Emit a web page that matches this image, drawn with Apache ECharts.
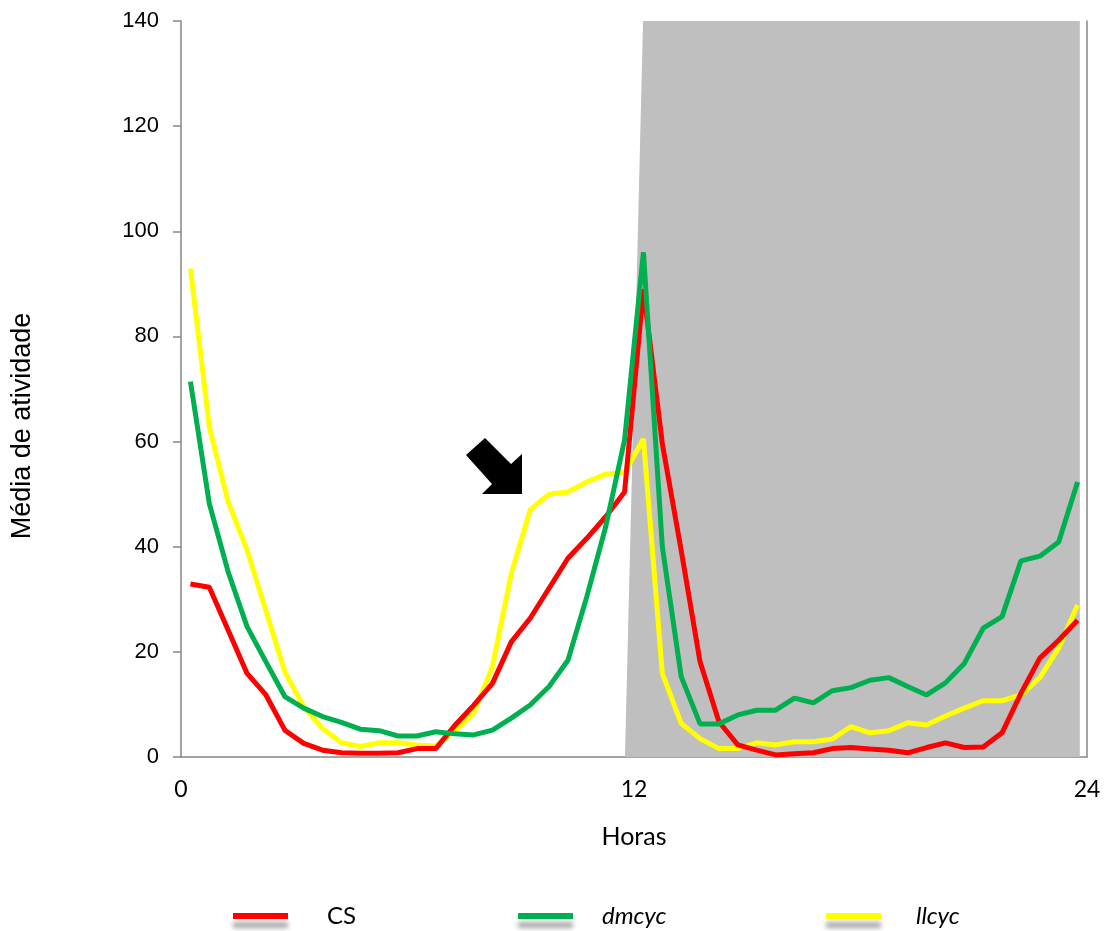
<!DOCTYPE html>
<html>
<head>
<meta charset="utf-8">
<script src="https://cdn.jsdelivr.net/npm/echarts@6/dist/echarts.min.js"></script>
<style>
html, body { margin: 0; padding: 0; background: #fff; }
#main { width: 1107px; height: 931px; }
</style>
</head>
<body>
<div id="main"></div>
<script>
// horas (meio das classes de 30 min)
var horas = [0.25, 0.75, 1.25, 1.75, 2.25, 2.75, 3.25, 3.75, 4.25, 4.75, 5.25, 5.75,
    6.25, 6.75, 7.25, 7.75, 8.25, 8.75, 9.25, 9.75, 10.25, 10.75, 11.25, 11.75,
    12.25, 12.75, 13.25, 13.75, 14.25, 14.75, 15.25, 15.75, 16.25, 16.75, 17.25, 17.75,
    18.25, 18.75, 19.25, 19.75, 20.25, 20.75, 21.25, 21.75, 22.25, 22.75, 23.25, 23.75];

var cs = [32.9, 32.3, 24.1, 15.9, 11.8, 5.1, 2.6, 1.3, 0.8, 0.7, 0.7, 0.8,
    1.6, 1.6, 6.0, 9.8, 14.0, 21.9, 26.4, 32.1, 37.8, 41.6, 45.7, 50.4,
    89.0, 59.6, 39.3, 18.1, 6.7, 2.3, 1.3, 0.4, 0.6, 0.8, 1.6, 1.8,
    1.5, 1.3, 0.8, 1.8, 2.7, 1.8, 1.9, 4.6, 12.1, 18.8, 22.2, 26.0];

var dmcyc = [71.4, 48.2, 35.2, 24.8, 18.1, 11.5, 9.3, 7.7, 6.6, 5.3, 5.0, 4.0,
    4.0, 4.8, 4.4, 4.2, 5.1, 7.4, 9.9, 13.4, 18.4, 30.5, 43.8, 60.3,
    96.0, 40.0, 15.3, 6.3, 6.3, 8.0, 8.9, 8.9, 11.2, 10.3, 12.6, 13.2,
    14.6, 15.1, 13.4, 11.8, 14.1, 17.8, 24.5, 26.7, 37.3, 38.2, 40.9, 52.3];

var llcyc = [92.9, 62.8, 48.5, 39.4, 27.8, 16.2, 9.6, 5.4, 2.7, 2.0, 2.7, 2.7,
    2.3, 2.1, 4.9, 8.3, 17.2, 34.9, 47.0, 50.0, 50.4, 52.3, 53.8, 54.1,
    60.5, 15.9, 6.4, 3.5, 1.6, 1.6, 2.7, 2.3, 2.9, 2.9, 3.4, 5.8,
    4.6, 5.0, 6.5, 6.1, 7.8, 9.3, 10.7, 10.7, 11.8, 15.1, 20.7, 28.9];

// fase escura (sombreado cinza)
var escuroX = [11.76, 12.24, 23.81, 23.81];
var escuroY = [0, 140, 140, 0];

function pares(xs, ys) {
    return xs.map(function (x, i) { return [x, ys[i]]; });
}

var myChart = echarts.init(document.getElementById('main'));

var corEixo = '#868686';
var fonteCalibri = 'Lato, "Open Sans", sans-serif';
var fonteArial = '"Liberation Sans", Arial, sans-serif';

var legendaBase = function (nome, esq, pad, italico) {
    return {
        data: [nome],
        left: esq,
        top: 899,
        icon: 'rect',
        itemWidth: 55,
        itemHeight: 6,
        itemStyle: {
            shadowBlur: 5,
            shadowColor: 'rgba(0,0,0,0.35)',
            shadowOffsetY: 9
        },
        textStyle: {
            fontFamily: fonteCalibri,
            fontSize: 24,
            color: '#000',
            fontStyle: italico ? 'italic' : 'normal',
            padding: [0, 0, 8, pad]
        }
    };
};

option = {
    animation: false,
    grid: {
        left: 181,
        right: 20,
        top: 21,
        bottom: 174
    },
    legend: [
        legendaBase('CS', 228, 34, false),
        legendaBase('dmcyc', 513, 24, true),
        legendaBase('llcyc', 821, 30, true)
    ],
    xAxis: {
        type: 'value',
        min: 0,
        max: 24,
        interval: 12,
        name: 'Horas',
        nameLocation: 'middle',
        nameGap: 67,
        nameTextStyle: { fontFamily: fonteCalibri, fontSize: 25, color: '#000' },
        axisLine: { show: true, lineStyle: { color: corEixo, width: 1.5 } },
        axisTick: { show: false },
        axisLabel: { fontFamily: fonteCalibri, fontSize: 23, color: '#000', margin: 21 },
        splitLine: { show: false }
    },
    yAxis: [
        {
            type: 'value',
            min: 0,
            max: 140,
            interval: 20,
            name: 'Média de atividade',
            nameLocation: 'middle',
            nameGap: 145,
            nameTextStyle: { fontFamily: fonteArial, fontSize: 27, color: '#000', padding: [0, 74, 0, 0] },
            axisLine: { show: true, lineStyle: { color: corEixo, width: 1.5 } },
            axisTick: { show: true, length: 8, lineStyle: { color: corEixo, width: 1.5 } },
            axisLabel: { fontFamily: fonteArial, fontSize: 22, color: '#000', margin: 22 },
            splitLine: { show: false }
        },
        {
            type: 'value',
            min: 0,
            max: 140,
            interval: 20,
            position: 'right',
            axisLine: { show: true, lineStyle: { color: corEixo, width: 1.5 } },
            axisTick: { show: false },
            axisLabel: { show: false },
            splitLine: { show: false }
        }
    ],
    series: [
        {
            name: 'escuro',
            type: 'line',
            data: pares(escuroX, escuroY),
            showSymbol: false,
            lineStyle: { width: 0 },
            areaStyle: { color: '#bfbfbf', opacity: 1 },
            z: 1,
            silent: true
        },
        {
            name: 'CS',
            type: 'line',
            data: pares(horas, cs),
            showSymbol: false,
            color: '#ff0000',
            lineStyle: { width: 5, color: '#ff0000' },
            z: 3
        },
        {
            name: 'dmcyc',
            type: 'line',
            data: pares(horas, dmcyc),
            showSymbol: false,
            color: '#00b050',
            lineStyle: { width: 5, color: '#00b050' },
            z: 4
        },
        {
            name: 'llcyc',
            type: 'line',
            data: pares(horas, llcyc),
            showSymbol: false,
            color: '#ffff00',
            lineStyle: { width: 5, color: '#ffff00' },
            z: 2
        }
    ],
    graphic: [
        {
            type: 'polygon',
            shape: {
                points: [[466, 455], [485, 438], [511, 464], [522, 454], [522, 494], [482, 494], [492, 484]]
            },
            style: { fill: '#000' },
            z: 10
        }
    ]
};
myChart.setOption(option);
</script>
</body>
</html>
